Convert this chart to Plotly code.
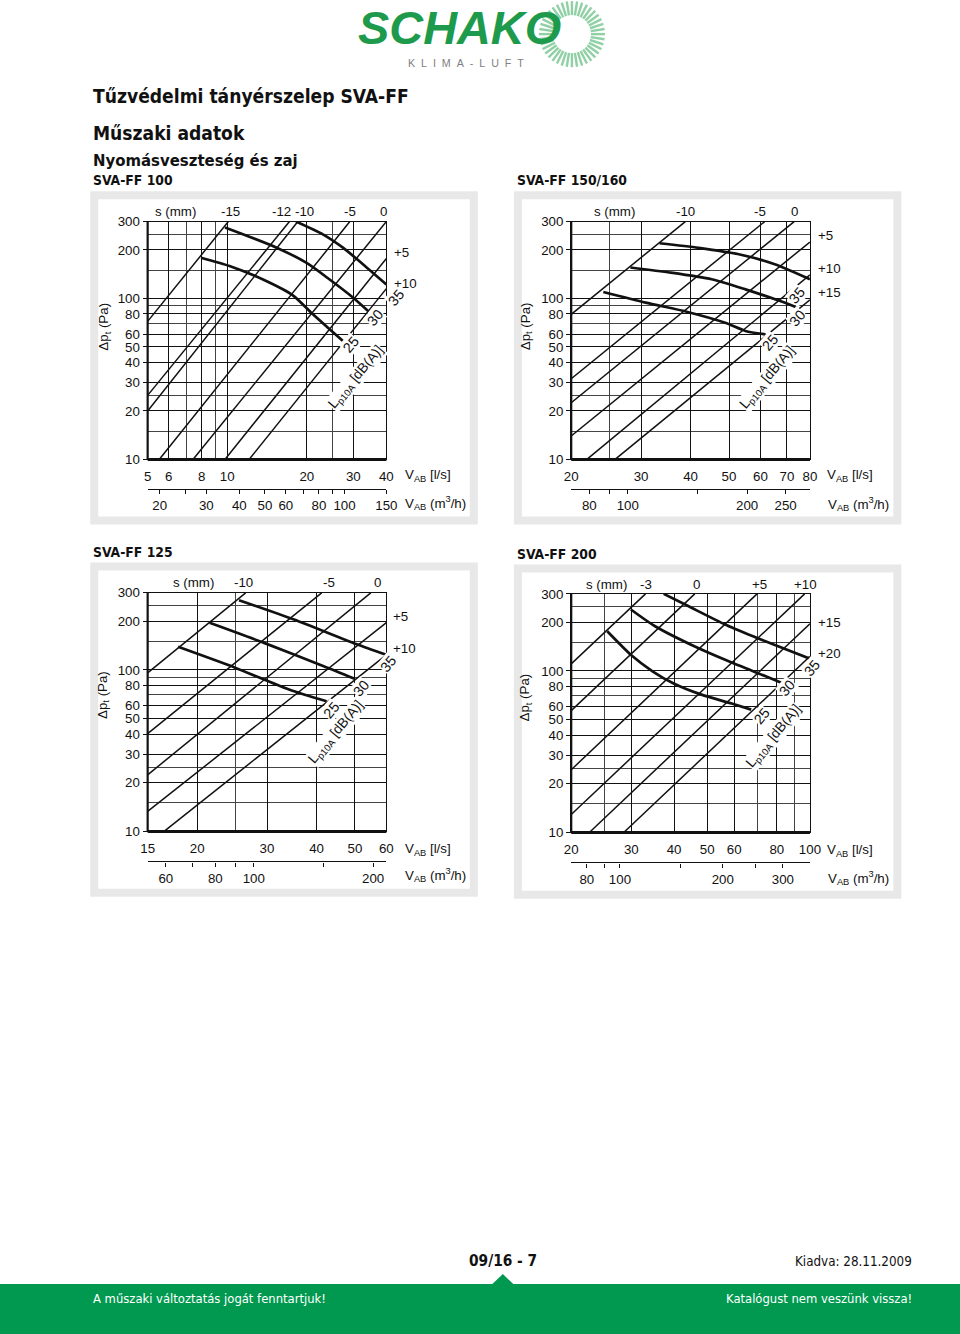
import math
import plotly.graph_objects as go

# The page is photographed with the browser's 8px body margin and a slight
# rescale; positions below are the reference's pixel positions, mapped into
# figure coordinates so they land where the reference has them.
MARGIN = 8
SX, SY = 0.98, 0.988
W = int(round(960 / SX - 2 * MARGIN))
H = int(round(1334 / SY - 2 * MARGIN))
FONT = "Liberation Sans, Arial, sans-serif"
COND = "DejaVu Sans Condensed, Liberation Sans, sans-serif"
GREEN = "#00994f"
M3H_PER_LS = 3.6
FS = 1 / SX  # font scale

# ======================= DATA =======================
PANEL_TITLES = ["SVA-FF 100", "SVA-FF 150/160", "SVA-FF 125", "SVA-FF 200"]

Y_RANGE = [10, 300]
Y_TICKS = [10, 20, 30, 40, 50, 60, 80, 100, 200, 300]
Y_MINOR = [15, 25, 70, 90, 150, 250]

# ---- SVA-FF 100 ----
P1_X_RANGE = [5, 40]
P1_X_TICKS = [5, 6, 8, 10, 20, 30, 40]
P1_X_MINOR = [7, 9, 25]
P1_M3H_TICKS = [20, 30, 40, 50, 60, 80, 100, 144]
P1_M3H_TEXT = ["20", "30", "40", "50", "60", "80", "100", "150"]
P1_M3H_MINOR = [25, 70, 90]
P1_S_LABELS = ["-15", "-12", "-10", "-5", "0", "+5", "+10"]
P1_S_V = [[5, 10.1], [5, 17.2], [5, 18.5], [5.53, 29.1], [7.42, 40], [9.8, 40], [12.1, 40]]
P1_S_P = [[72, 300], [25, 300], [20, 300], [10, 300], [10, 300], [10, 177], [10, 115]]
P1_L_LABELS = ["25", "30", "35"]
P1_L_V = [[7.96, 10.2, 13.66, 17.71, 21.1, 24.4, 27.4],
          [9.81, 15.38, 19.9, 24.4, 29.95, 34.1],
          [18.2, 23.0, 27.4, 32.6, 40]]
P1_L_P = [[179, 159, 131, 104.5, 79.6, 64.3, 54.4],
          [275.6, 206.6, 166.6, 131, 101, 83.6],
          [300, 250, 206.6, 163, 122]]

# ---- SVA-FF 150/160 ----
P2_X_RANGE = [20, 80]
P2_X_TICKS = [20, 30, 40, 50, 60, 70, 80]
P2_X_MINOR = [25]
P2_M3H_TICKS = [80, 100, 200, 250]
P2_M3H_TEXT = ["80", "100", "200", "250"]
P2_M3H_MINOR = [90, 150]
P2_S_LABELS = ["-10", "-5", "0", "+5", "+10", "+15"]
P2_S_V = [[20, 38.8], [20, 61.5], [20, 73], [20, 80], [21.9, 80], [25.8, 80]]
P2_S_P = [[79.6, 300], [31.7, 300], [22.5, 300], [14, 224], [10, 140], [10, 98]]
P2_L_LABELS = ["25", "30", "35"]
P2_L_V = [[24.1, 30.8, 39.3, 48.9, 55.0, 61.8],
          [28.2, 35.6, 45.2, 55.0, 67.0, 74.4],
          [33.4, 41.9, 52.9, 65.2, 80]]
P2_L_P = [[109.5, 94.1, 82.4, 70.6, 62.8, 59.8],
          [155.5, 144.6, 131.4, 113.8, 96.6, 87.6],
          [220, 206, 188, 163, 131.4]]

# ---- SVA-FF 125 ----
P3_X_RANGE = [15, 60]
P3_X_TICKS = [15, 20, 30, 40, 50, 60]
P3_X_MINOR = [25]
P3_M3H_TICKS = [60, 80, 100, 200]
P3_M3H_TEXT = ["60", "80", "100", "200"]
P3_M3H_MINOR = [70, 90, 150]
P3_S_LABELS = ["-10", "-5", "0", "+5", "+10"]
P3_S_V = [[15, 26.5], [15, 41.2], [15, 54.8], [15, 60], [16.5, 60]]
P3_S_P = [[95.8, 300], [40.3, 300], [22.4, 300], [13.3, 196], [10, 124]]
P3_L_LABELS = ["25", "30", "35"]
P3_L_V = [[17.9, 25.0, 34.1, 42.4],
          [21.5, 29.6, 41.7, 49.9],
          [25.5, 35.1, 50.3, 60]]
P3_L_P = [[138.9, 102.9, 75.6, 63.9],
          [195.6, 146.5, 105.5, 88.1],
          [270, 205, 144.6, 124]]

# ---- SVA-FF 200 ----
P4_X_RANGE = [20, 100]
P4_X_TICKS = [20, 30, 40, 50, 60, 80, 100]
P4_X_MINOR = [25, 70, 90]
P4_M3H_TICKS = [80, 100, 200, 300]
P4_M3H_TEXT = ["80", "100", "200", "300"]
P4_M3H_MINOR = [90, 150, 250]
P4_S_LABELS = ["-3", "0", "+5", "+10", "+15", "+20"]
P4_S_V = [[20, 33], [20, 46], [20, 70], [20, 96.5], [22.6, 100], [28.5, 100]]
P4_S_P = [[110.5, 300], [56.8, 300], [24.45, 300], [12.9, 300], [10, 196], [10, 123]]
P4_L_LABELS = ["25", "30", "35"]
P4_L_V = [[25.5, 30.0, 34.6, 39.9, 48.1, 59.0, 67.3],
          [29.9, 35.2, 46.2, 57.6, 74.2, 82.8],
          [37.3, 44.0, 56.4, 69.2, 82.8, 100]]
P4_L_P = [[176, 125, 99.5, 83.6, 71.3, 62.8, 57.6],
          [240, 189, 141, 115, 92.6, 84.2],
          [300, 252, 194, 161.7, 138.9, 119]]

PANELS = [
    dict(xr=P1_X_RANGE, xt=P1_X_TICKS, xm=P1_X_MINOR, mt=P1_M3H_TICKS, mtx=P1_M3H_TEXT, mm=P1_M3H_MINOR,
         sl=P1_S_LABELS, sv=P1_S_V, sp=P1_S_P, ll=P1_L_LABELS, lv=P1_L_V, lp=P1_L_P),
    dict(xr=P2_X_RANGE, xt=P2_X_TICKS, xm=P2_X_MINOR, mt=P2_M3H_TICKS, mtx=P2_M3H_TEXT, mm=P2_M3H_MINOR,
         sl=P2_S_LABELS, sv=P2_S_V, sp=P2_S_P, ll=P2_L_LABELS, lv=P2_L_V, lp=P2_L_P),
    dict(xr=P3_X_RANGE, xt=P3_X_TICKS, xm=P3_X_MINOR, mt=P3_M3H_TICKS, mtx=P3_M3H_TEXT, mm=P3_M3H_MINOR,
         sl=P3_S_LABELS, sv=P3_S_V, sp=P3_S_P, ll=P3_L_LABELS, lv=P3_L_V, lp=P3_L_P),
    dict(xr=P4_X_RANGE, xt=P4_X_TICKS, xm=P4_X_MINOR, mt=P4_M3H_TICKS, mtx=P4_M3H_TEXT, mm=P4_M3H_MINOR,
         sl=P4_S_LABELS, sv=P4_S_V, sp=P4_S_P, ll=P4_L_LABELS, lv=P4_L_V, lp=P4_L_P),
]

# ======================= LAYOUT (reference pixels) =======================
BOX = [(148.3, 386.7, 222.3, 460.0), (571.3, 809.7, 222.3, 460.0),
       (148.3, 386.7, 593.3, 831.7), (571.3, 809.7, 594.3, 832.7)]
FRAME = [(91, 478, 192, 525), (514, 901, 192, 525), (91, 478, 563, 897), (514, 901, 565, 899)]
M3H_Y = [489.3, 489.3, 861.7, 862.7]
TITLE_POS = [(92, 181), (515, 181), (92, 552), (515, 554)]
TOP_Y = [212.7, 212.7, 582.7, 585]
TOP_X = [[176, 231, 282, 305, 350, 384], [615, 685, 760, 794],
         [194, 244, 329, 377.5], [607, 646, 696, 759, 805]]
RIGHT_LBL = [[(392.7, 253.3), (392.7, 284.3)],
             [(815.3, 236.7), (815.3, 269), (815.3, 293.3)],
             [(391.7, 617.3), (391.7, 649.3)],
             [(815.3, 622.7), (815.3, 654.3)]]
CURVE_LBL = [[(351.7, 345), (375, 318.3), (396, 298.3)],
             [(770.3, 342.7), (797, 318.3), (797, 296)],
             [(331.7, 710), (361.7, 688.3), (388.3, 664)],
             [(761.7, 716.7), (786.7, 688.3), (811.7, 668.3)]]
LP_POS = [(356.7, 378.3), (767.7, 378), (336.7, 733), (774, 737.3)]
DP_POS = [(105, 327), (526, 327), (104, 695), (526, 698)]
VLS_POS = [(403, 476), (825, 476), (403, 849.3), (825, 850.7)]
VM3_POS = [(403, 503.5), (826, 505), (403, 875), (826, 878.3)]


def px(x):
    return (x / SX - MARGIN) / W


def py(y):
    return 1 - (y / SY - MARGIN) / H


def lg(v):
    return math.log10(v)


def nm(prefix, n):
    return prefix + ("" if n == 1 else str(n))


fig = go.Figure()
layout = {}
shapes = []
annotations = []


def ann(x, y, text, size=13, xanchor="center", angle=0, color="#111", family=FONT,
        bg=None, yanchor="middle"):
    d = dict(x=px(x), y=py(y), xref="paper", yref="paper", text=text, showarrow=False,
             xanchor=xanchor, yanchor=yanchor, textangle=angle,
             font=dict(size=round(size * FS, 1), color=color, family=family))
    if bg:
        d["bgcolor"] = bg
        d["borderpad"] = 0
    annotations.append(d)


tickfont = dict(family=FONT, size=round(13 * FS, 1), color="#111")

for i, p in enumerate(PANELS):
    xm_id, xs_id, y_id = 2 * i + 1, 2 * i + 2, i + 1
    x0, x1, yt, yb = BOX[i]
    fx0, fx1, fy0, fy1 = FRAME[i]
    shapes.append(dict(type="rect", xref="paper", yref="paper", x0=px(fx0), x1=px(fx1),
                       y0=py(fy1), y1=py(fy0), fillcolor="#e8e8e8", line=dict(width=0), layer="below"))
    shapes.append(dict(type="rect", xref="paper", yref="paper", x0=px(fx0 + 8), x1=px(fx1 - 8),
                       y0=py(fy1 - 8), y1=py(fy0 + 8), fillcolor="white", line=dict(width=0), layer="below"))

    a, b = p["xr"]
    layout[nm("xaxis", xm_id)] = dict(
        type="log", domain=[px(x0), px(x1)], anchor=nm("y", y_id), range=[lg(a), lg(b)],
        tickmode="array", tickvals=p["xt"], ticktext=[str(v) for v in p["xt"]],
        ticks="outside", ticklen=4, tickcolor="rgba(0,0,0,0)", tickfont=tickfont,
        showgrid=True, gridcolor="#111", gridwidth=1.2,
        minor=dict(tickmode="array", tickvals=p["xm"], showgrid=True, gridcolor="#444",
                   gridwidth=0.9, ticks=""),
        showline=True, mirror=True, linecolor="#111", linewidth=1.3, zeroline=False, fixedrange=True)
    layout[nm("xaxis", xs_id)] = dict(
        type="log", overlaying=nm("x", xm_id), anchor="free", position=py(M3H_Y[i]), side="bottom",
        range=[lg(a * M3H_PER_LS), lg(b * M3H_PER_LS)],
        tickmode="array", tickvals=p["mt"], ticktext=p["mtx"],
        ticks="outside", ticklen=4, tickcolor="#111", tickwidth=1.2, tickfont=tickfont,
        minor=dict(tickmode="array", tickvals=p["mm"], ticks="outside", ticklen=4,
                   tickcolor="#111", tickwidth=1.2, showgrid=False),
        showgrid=False, showline=True, linecolor="#111", linewidth=1.3, zeroline=False, fixedrange=True)
    layout[nm("yaxis", y_id)] = dict(
        type="log", domain=[py(yb), py(yt)], anchor=nm("x", xm_id), range=[lg(Y_RANGE[0]), lg(Y_RANGE[1])],
        tickmode="array", tickvals=Y_TICKS, ticktext=[str(v) for v in Y_TICKS],
        ticks="outside", ticklen=4, tickcolor="#111", tickwidth=1.2, tickfont=tickfont,
        showgrid=True, gridcolor="#111", gridwidth=1.2,
        minor=dict(tickmode="array", tickvals=Y_MINOR, showgrid=True, gridcolor="#444",
                   gridwidth=0.9, ticks=""),
        showline=True, mirror=True, linecolor="#111", linewidth=1.3, zeroline=False, fixedrange=True)

    xa, xsa, ya = nm("x", xm_id), nm("x", xs_id), nm("y", y_id)
    shapes.append(dict(type="line", xref=xa + " domain", yref=ya + " domain", x0=0, x1=1, y0=0, y1=0,
                       line=dict(color="#111", width=3)))
    shapes.append(dict(type="line", xref=xa + " domain", yref=ya + " domain", x0=0, x1=0, y0=0, y1=1,
                       line=dict(color="#111", width=2.2)))

    # invisible carrier trace so the m3/h axis is drawn
    fig.add_trace(go.Scatter(x=[a * M3H_PER_LS, b * M3H_PER_LS], y=Y_RANGE, mode="lines",
                             line=dict(width=0, color="rgba(0,0,0,0)"), xaxis=xsa, yaxis=ya,
                             hoverinfo="skip", showlegend=False))
    for lbl, vv, pp in zip(p["sl"], p["sv"], p["sp"]):
        fig.add_trace(go.Scatter(x=vv, y=pp, mode="lines", name="s=" + lbl,
                                 line=dict(color="#111", width=1.5), xaxis=xa, yaxis=ya,
                                 hoverinfo="skip", showlegend=False))
    for lbl, vv, pp in zip(p["ll"], p["lv"], p["lp"]):
        fig.add_trace(go.Scatter(x=vv, y=pp, mode="lines", name=lbl + " dB(A)",
                                 line=dict(color="#111", width=2.7, shape="spline", smoothing=0.7),
                                 xaxis=xa, yaxis=ya, hoverinfo="skip", showlegend=False))

    ann(TITLE_POS[i][0], TITLE_POS[i][1], "<b>" + PANEL_TITLES[i] + "</b>", size=13.5,
        xanchor="left", family=COND)
    n_top = len(TOP_X[i]) - 1
    for t, x in zip(["s (mm)"] + p["sl"][:n_top], TOP_X[i]):
        ann(x, TOP_Y[i], t)
    for t, (x, y) in zip(p["sl"][n_top:], RIGHT_LBL[i]):
        ann(x, y, t, xanchor="left")
    for t, (x, y) in zip(p["ll"], CURVE_LBL[i]):
        ann(x, y, t, size=14, angle=-50, bg="white")
    ann(LP_POS[i][0], LP_POS[i][1], "L<sub>p10A</sub> [dB(A)]", size=13.5, angle=-50, bg="white")
    ann(DP_POS[i][0], DP_POS[i][1], "Δp<sub>t</sub> (Pa)", angle=-90)
    ann(VLS_POS[i][0], VLS_POS[i][1], "V<sub>AB</sub> [l/s]", xanchor="left")
    ann(VM3_POS[i][0], VM3_POS[i][1], "V<sub>AB</sub> (m<sup>3</sup>/h)", xanchor="left")

# ---------------- page header ----------------
ann(92, 97, "<b>Tűzvédelmi tányérszelep SVA-FF</b>", size=18.7, xanchor="left", family=COND)
ann(92, 134, "<b>Műszaki adatok</b>", size=18.7, xanchor="left", family=COND)
ann(92, 161, "<b>Nyomásveszteség és zaj</b>", size=16.3, xanchor="left", family=COND)

# logo: sun rays + wordmark
LOGO_CX, LOGO_CY = 572, 35
for k in range(40):
    ang = 2 * math.pi * k / 40
    r0, r1 = 19, 33
    shapes.append(dict(type="line", xref="paper", yref="paper",
                       x0=px(LOGO_CX + r0 * math.cos(ang)), y0=py(LOGO_CY + r0 * math.sin(ang)),
                       x1=px(LOGO_CX + r1 * math.cos(ang)), y1=py(LOGO_CY + r1 * math.sin(ang)),
                       line=dict(color="#8fd0a4", width=2.4)))
ann(356, 29, "<b><i>SCHAKO</i></b>", size=46, xanchor="left", color="#1d9a4c")
ann(466, 64, "K\u00a0\u00a0L\u00a0\u00a0I\u00a0\u00a0M\u00a0\u00a0A\u00a0\u00a0-\u00a0\u00a0L\u00a0\u00a0U\u00a0\u00a0F\u00a0\u00a0T",
    size=10.5, color="#808080")

# ---------------- footer ----------------
shapes.append(dict(type="rect", xref="paper", yref="paper", x0=px(0), x1=px(960), y0=py(1334),
                   y1=py(1284), fillcolor=GREEN, line=dict(width=0)))
shapes.append(dict(type="path", xref="paper", yref="paper",
                   path=f"M {px(492)} {py(1284.5)} L {px(503)} {py(1274)} L {px(514)} {py(1284.5)} Z",
                   fillcolor=GREEN, line=dict(width=0)))
ann(503, 1261, "<b>09/16 - 7</b>", size=15, family=COND)
ann(914, 1261, "Kiadva: 28.11.2009", size=13, xanchor="right", family=COND)
ann(92, 1298, "A műszaki változtatás jogát fenntartjuk!", size=12.6, xanchor="left", color="white", family=COND)
ann(914, 1298, "Katalógust nem veszünk vissza!", size=12.6, xanchor="right", color="white", family=COND)

fig.update_layout(width=W, height=H, margin=dict(l=0, r=0, t=0, b=0), paper_bgcolor="white",
                  plot_bgcolor="rgba(0,0,0,0)", showlegend=False, shapes=shapes,
                  annotations=annotations, **layout)
fig.write_html("out.html")
